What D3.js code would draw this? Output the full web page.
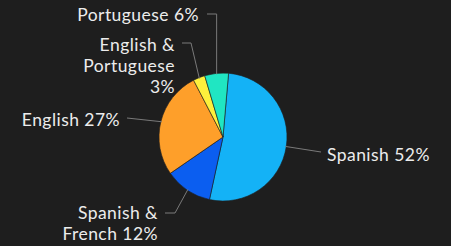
<!DOCTYPE html>
<html><head><meta charset="utf-8">
<script src="https://cdn.jsdelivr.net/npm/d3@7"></script>
<style>
html,body{margin:0;padding:0;background:#1e1e1e;}
svg{display:block;}
text{font-family:Lato,"Open Sans",sans-serif;font-size:17.5px;letter-spacing:0.45px;fill:#ececec;}
</style></head>
<body>
<svg id="c" width="451" height="246"></svg>
<script>
const categories = ["Spanish","Spanish & French","English","English & Portuguese","Portuguese"];
const values = [52, 12, 27, 3, 6];
const labelLines = [["Spanish 52%"],["Spanish &","French 12%"],["English 27%"],["English &","Portuguese","3%"],["Portuguese 6%"]];
const colors = ["#14b2f6","#0b5ef0","#fe9f2a","#fdf03c","#20e6c2"];

// layout (positions only)
const cx = 223, cy = 137, R = 64;
const startDeg = 5;
const layout = [
  {pts:[[321,152]], tx:327, ty:154.5, anchor:"start"},
  {pts:[[175,213],[165,213]], tx:158, ty:213, anchor:"end"},
  {pts:[[127,118]], tx:120, ty:120, anchor:"end"},
  {pts:[[191,43],[182,43]], tx:175, ty:44.5, anchor:"end"},
  {pts:[["v",14],[207,14]], tx:199, ty:15, anchor:"end"}
];
const lineH = 21;

const svg = d3.select("#c");
svg.append("rect").attr("width",451).attr("height",246).attr("fill","#1e1e1e");
const a0 = startDeg*Math.PI/180;
const pie = d3.pie().sort(null).startAngle(a0).endAngle(a0+2*Math.PI);
const arcs = pie(values);
const arc = d3.arc().innerRadius(0).outerRadius(R);
const g = svg.append("g").attr("transform",`translate(${cx},${cy})`);
g.selectAll("path").data(arcs).join("path")
  .attr("d",arc).attr("fill",(d,i)=>colors[i])
  .attr("stroke","#1e1e1e").attr("stroke-width",0.6);

arcs.forEach((d,i)=>{
  const m = (d.startAngle+d.endAngle)/2;
  const sx = cx + Math.sin(m)*(R-1), sy = cy - Math.cos(m)*(R-1);
  const L = layout[i];
  const pts = [[sx,sy]];
  L.pts.forEach(p=>{ if(p[0]==="v") pts.push([sx,p[1]]); else pts.push(p); });
  svg.append("path").attr("d",d3.line()(pts)).attr("fill","none")
    .attr("stroke","#7a7a7a").attr("stroke-width",1);
  const t = svg.append("text").attr("text-anchor",L.anchor);
  labelLines[i].forEach((s,k)=>{
    t.append("tspan").attr("x",L.tx).attr("y",L.ty+k*lineH).attr("dy","0.35em").text(s);
  });
});
</script>
</body></html>
